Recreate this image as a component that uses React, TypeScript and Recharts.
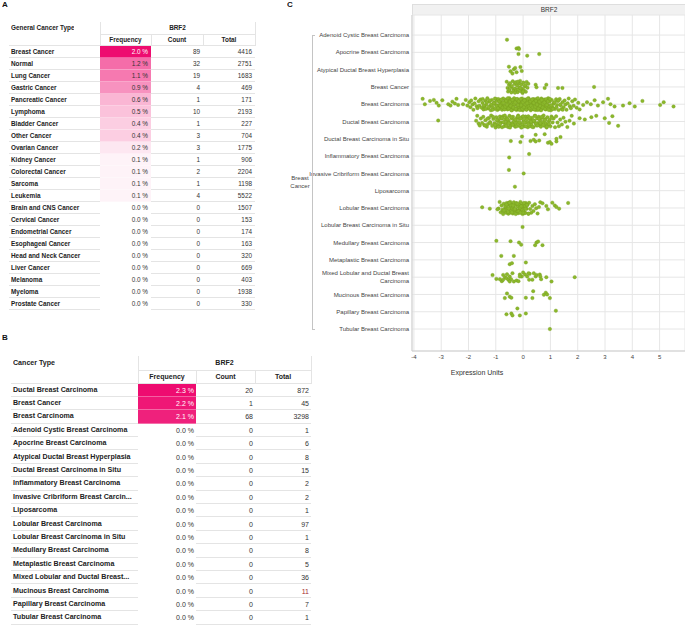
import React from 'react';
import { ScatterChart, Scatter, XAxis, YAxis, CartesianGrid } from 'recharts';

const FONT = '"Liberation Sans", Arial, sans-serif';

// ---------- Table A data ----------
const generalTypes = ['Breast Cancer', 'Normal', 'Lung Cancer', 'Gastric Cancer', 'Pancreatic Cancer', 'Lymphoma', 'Bladder Cancer', 'Other Cancer', 'Ovarian Cancer', 'Kidney Cancer', 'Colorectal Cancer', 'Sarcoma', 'Leukemia', 'Brain and CNS Cancer', 'Cervical Cancer', 'Endometrial Cancer', 'Esophageal Cancer', 'Head and Neck Cancer', 'Liver Cancer', 'Melanoma', 'Myeloma', 'Prostate Cancer'];
const generalFreq = [2.0, 1.2, 1.1, 0.9, 0.6, 0.5, 0.4, 0.4, 0.2, 0.1, 0.1, 0.1, 0.1, 0, 0, 0, 0, 0, 0, 0, 0, 0];
const generalCount = [89, 32, 19, 4, 1, 10, 1, 3, 3, 1, 2, 1, 4, 0, 0, 0, 0, 0, 0, 0, 0, 0];
const generalTotal = [4416, 2751, 1683, 469, 171, 2193, 227, 704, 1775, 906, 2204, 1198, 5522, 1507, 153, 174, 163, 320, 669, 403, 1938, 330];

// ---------- Table B data ----------
const breastTypes = ['Ductal Breast Carcinoma', 'Breast Cancer', 'Breast Carcinoma', 'Adenoid Cystic Breast Carcinoma', 'Apocrine Breast Carcinoma', 'Atypical Ductal Breast Hyperplasia', 'Ductal Breast Carcinoma in Situ', 'Inflammatory Breast Carcinoma', 'Invasive Cribriform Breast Carcin...', 'Liposarcoma', 'Lobular Breast Carcinoma', 'Lobular Breast Carcinoma in Situ', 'Medullary Breast Carcinoma', 'Metaplastic Breast Carcinoma', 'Mixed Lobular and Ductal Breast...', 'Mucinous Breast Carcinoma', 'Papillary Breast Carcinoma', 'Tubular Breast Carcinoma'];
const breastFreq = [2.3, 2.2, 2.1, 0, 0, 0, 0, 0, 0, 0, 0, 0, 0, 0, 0, 0, 0, 0];
const breastCount = [20, 1, 68, 0, 0, 0, 0, 0, 0, 0, 0, 0, 0, 0, 0, 0, 0, 0];
const breastTotal = [872, 45, 3298, 1, 6, 8, 15, 2, 2, 1, 97, 1, 8, 5, 36, 11, 7, 1];

// ---------- Panel C data ----------
const subtypes = ['Adenoid Cystic Breast Carcinoma', 'Apocrine Breast Carcinoma', 'Atypical Ductal Breast Hyperplasia', 'Breast Cancer', 'Breast Carcinoma', 'Ductal Breast Carcinoma', 'Ductal Breast Carcinoma in Situ', 'Inflammatory Breast Carcinoma', 'Invasive Cribriform Breast Carcinoma', 'Liposarcoma', 'Lobular Breast Carcinoma', 'Lobular Breast Carcinoma in Situ', 'Medullary Breast Carcinoma', 'Metaplastic Breast Carcinoma', 'Mixed Lobular and Ductal Breast Carcinoma', 'Mucinous Breast Carcinoma', 'Papillary Breast Carcinoma', 'Tubular Breast Carcinoma'];
const xTicks = [-4, -3, -2, -1, 0, 1, 2, 3, 4, 5];

// jitter pattern used for the dense groups (strip-plot layout)
const JITTER = [-0.3, 0.06, 0.27, -0.12, 0.17, -0.22, 0.01, 0.32, -0.05, -0.33, 0.12, 0.23, -0.17, 0.09, -0.27, 0.2, -0.08, 0.3, 0.14, -0.2, 0.03, -0.35, 0.25, -0.14, 0.1, 0.35, -0.25, 0.19, -0.02, -0.1, 0.28, -0.29, 0.05, -0.18, 0.33];

const adenoidVals = [-0.59];
const adenoidJit = [0.27];
const apocrineVals = [-0.24, -0.17, -0.15, -0.17, 0.15, 0.59];
const apocrineJit = [-0.23, -0.25, -0.19, 0.1, 0.19, 0.1];
const atypicalVals = [-0.52, -0.46, -0.34, -0.29, -0.24, -0.1, -0.05, -0.39];
const atypicalJit = [-0.17, 0.1, -0.02, -0.1, 0.15, -0.15, 0.08, 0.23];
const breastCancerVals = [-0.6, -0.57, -0.55, -0.52, -0.5, -0.48, -0.45, -0.43, -0.41, -0.38, -0.36, -0.34, -0.31, -0.29, -0.27, -0.25, -0.22, -0.2, -0.18, -0.15, -0.13, -0.11, -0.08, -0.06, -0.04, -0.02, 0.01, 0.03, 0.06, 0.08, 0.1, 0.13, 0.16, 0.19, -0.3, -0.2, -0.1, 0.0];
const breastCancerSparseVals = [0.46, 0.49, 0.79, 0.85, 1.28, 1.44, 2.6];
const breastCancerSparseJit = [-0.13, 0.02, 0.06, -0.13, 0.06, 0.06, 0.0];

const carcinomaCore = [-1.97, -1.93, -1.9, -1.85, -1.82, -1.78, -1.75, -1.7, -1.67, -1.63, -1.6, -1.56, -1.52, -1.49, -1.45, -1.42, -1.38, -1.35, -1.31, -1.28, -1.24, -1.21, -1.18, -1.14, -1.11, -1.08, -1.05, -1.02,
  -0.99, -0.98, -0.95, -0.94, -0.91, -0.89, -0.88, -0.85, -0.83, -0.82, -0.79, -0.77, -0.76, -0.73, -0.71, -0.7, -0.67, -0.66, -0.63, -0.61, -0.6, -0.57, -0.55, -0.54, -0.51, -0.5, -0.47, -0.45, -0.44, -0.41, -0.4, -0.37, -0.35, -0.34, -0.31, -0.3, -0.28, -0.25, -0.24, -0.21, -0.2, -0.18, -0.15, -0.14, -0.11, -0.1, -0.08, -0.05, -0.04, -0.02, 0.01, 0.02, 0.04, 0.07, 0.08, 0.1, 0.13, 0.14, 0.16, 0.19, 0.2, 0.22, 0.25, 0.26, 0.28, 0.31, 0.32, 0.34, 0.37, 0.38, 0.4, 0.43, 0.44, 0.46, 0.49, 0.5, 0.52, 0.55, 0.57, 0.58, 0.61, 0.63, 0.64, 0.67, 0.69, 0.7, 0.73, 0.75, 0.77, 0.79, 0.81, 0.83, 0.86, 0.88, 0.9, 0.92, 0.95, 0.97, 0.99,
  1.02, 1.05, 1.08, 1.11, 1.14, 1.17, 1.21, 1.24, 1.27, 1.3, 1.34, 1.37, 1.41, 1.44, 1.48, 1.52, 1.55, 1.59, 1.63, 1.67, 1.71, 1.75, 1.8, 1.85, 1.9, 1.96, 2.02, 2.07,
  -0.58, -0.49, -0.42, -0.33, -0.26, -0.17, -0.09, -0.01, 0.06, 0.12, 0.18, 0.24, 0.3, 0.36, 0.42, 0.48, 0.54,
  -1.48, -1.44, -1.37, -1.33, -1.26, -1.22, -1.16, -1.12, -1.07, -1.03, -0.97, -0.92, -0.87, -0.84, -0.8, -0.75, -0.72, -0.68, -0.65, -0.62, -0.59, -0.56, -0.53, -0.48, -0.46, -0.43, -0.39, -0.36, -0.32, -0.29, -0.27, -0.23, -0.19, -0.16, -0.13, -0.09, -0.07, -0.03, 0.0, 0.03, 0.05, 0.09, 0.12, 0.15, 0.17, 0.21, 0.24, 0.27, 0.29, 0.33, 0.35, 0.39, 0.41, 0.45, 0.47, 0.51, 0.54, 0.56, 0.6, 0.62, 0.66, 0.68, 0.72, 0.74, 0.78, 0.8, 0.84, 0.87, 0.91, 0.94, 0.98, 1.03, 1.09, 1.15, 1.22, 1.29, 1.36, 1.45];
const carcinomaOutVals = [-3.68, -3.6, -3.41, -3.27, -3.17, -3.09, -2.96, -2.74, -2.66, -2.59, -2.5, -2.44, -2.38, -2.2, -2.1, -2.04, 2.2, 2.34, 2.48, 2.62, 2.74, 2.93, 3.11, 3.2, 3.35, 3.66, 3.9, 4.09, 4.37, 5.02, 5.15, 5.51];
const carcinomaOutJit = [-0.31, 0, -0.19, -0.25, -0.08, 0.08, -0.23, 0, 0.08, -0.15, -0.04, -0.31, 0.04, 0, -0.25, 0.08, 0.04, -0.12, 0, -0.23, 0.08, -0.12, -0.31, 0, 0.13, 0.08, -0.06, 0.13, -0.19, 0.04, -0.12, 0.13];

const ductalCore = [-1.72, -1.68, -1.63, -1.59, -1.55, -1.5, -1.46, -1.42, -1.38, -1.33, -1.29, -1.25, -1.21, -1.17, -1.13, -1.09, -1.05, -1.01,
  -0.98, -0.95, -0.93, -0.9, -0.87, -0.85, -0.82, -0.79, -0.77, -0.74, -0.71, -0.69, -0.66, -0.63, -0.61, -0.58, -0.55, -0.53, -0.5, -0.47, -0.45, -0.42, -0.39, -0.37, -0.34, -0.31, -0.29, -0.26, -0.23, -0.21, -0.18, -0.15, -0.13, -0.1, -0.07, -0.05, -0.02, 0.01, 0.03, 0.06, 0.09, 0.11, 0.14, 0.17, 0.19, 0.22, 0.25, 0.27, 0.3, 0.33, 0.35, 0.38, 0.41, 0.43, 0.46, 0.49, 0.51, 0.54, 0.57, 0.59, 0.62, 0.65, 0.67, 0.7, 0.73, 0.75, 0.78, 0.81, 0.83, 0.86, 0.89, 0.91, 0.94, 0.97,
  1.0, 1.04, 1.08, 1.12, 1.17, 1.21, 1.26, 1.31, 1.36, 1.42, 1.48, 1.55, 1.62, 1.7, 1.78, 1.86,
  -1.4, -1.3, -1.2, -1.1, -1.02, -0.96, -0.9, -0.84, -0.78, -0.72, -0.67, -0.62, -0.57, -0.52, -0.48, -0.43, -0.38, -0.33, -0.28, -0.24, -0.19, -0.14, -0.09, -0.04, 0.0, 0.05, 0.1, 0.15, 0.2, 0.24, 0.29, 0.34, 0.39, 0.44, 0.48, 0.53, 0.58, 0.63, 0.68, 0.74, 0.8, 0.87, 0.95, 1.05];
const ductalOutVals = [-3.11, 2.07, 2.26, 2.5, 2.68, 2.99, 3.15, 3.27, 3.48];
const ductalOutJit = [-0.06, -0.19, -0.12, -0.25, -0.33, -0.19, 0.08, -0.31, 0.25];

const dcisVals = [-0.45, -0.1, -0.04, 0.27, 0.39, 0.46, 0.46, 0.59, 0.79, 0.91, 0.98, 1.04, 1.22, 1.37, 1.22];
const dcisJit = [0.13, 0.19, -0.13, 0.13, 0.06, -0.23, 0.15, 0.1, -0.27, 0.23, 0.19, 0.29, 0.15, -0.1, 0.0];
const inflamVals = [-0.51, 0.22];
const inflamJit = [0.08, -0.12];
const cribriformVals = [-0.52, 0.02];
const cribriformJit = [-0.2, 0];
const lipoVals = [-0.3];
const lipoJit = [-0.23];
const lobularCore = [-0.9, -0.86, -0.82, -0.79, -0.76, -0.73, -0.71, -0.69, -0.66, -0.64, -0.62, -0.6, -0.58, -0.56, -0.54, -0.52, -0.5, -0.48, -0.46, -0.44, -0.42, -0.4, -0.38, -0.36, -0.34, -0.32, -0.3, -0.28, -0.26, -0.24, -0.22, -0.2, -0.18, -0.16, -0.14, -0.12, -0.1, -0.08, -0.06, -0.04, -0.02, 0.0, 0.02, 0.04, 0.06, 0.08, 0.1, 0.13, 0.16, 0.19, 0.22, 0.26, 0.3, 0.34, 0.38, 0.43, 0.48, 0.53, 0.58, 0.63, -0.65, -0.55, -0.45, -0.35, -0.25, -0.15, -0.05, 0.05,
  -0.7, -0.61, -0.53, -0.47, -0.41, -0.37, -0.31, -0.27, -0.21, -0.17, -0.11, -0.07, -0.01, 0.03, 0.09, 0.14, 0.2, -0.5, -0.3, -0.1];
const lobularOutVals = [-1.5, -1.22, -0.94, 0.71, 0.85, 0.91, 1.07, 1.16, 1.22, 1.32, 1.65];
const lobularOutJit = [-0.04, 0.04, 0.08, -0.27, -0.12, 0.08, -0.31, -0.15, -0.06, 0.04, -0.29];
const lcisVals = [-0.02];
const lcisJit = [0.1];
const medullaryVals = [-0.98, -0.46, -0.15, -0.07, 0.44, 0.49, 0.55, 0.71];
const medullaryJit = [-0.1, -0.08, 0, 0.12, 0.15, 0, -0.06, 0.15];
const metaplasticVals = [-0.8, -0.34, 0.1, -0.49, -0.41];
const metaplasticJit = [-0.23, -0.23, 0.15, 0.25, 0.19];
const mixedVals = [-1.12, -0.98, -0.78, -0.73, -0.66, -0.73, -0.61, -0.59, -0.54, -0.49, -0.44, -0.39, -0.34, -0.24, -0.17, -0.12, -0.05, 0, 0.07, 0.15, 0.22, 0.24, 0.34, 0.39, 0.46, 0.49, 0.61, 0.63, 0.66, 0.85, 1.04, 1.89, -0.85, -0.49, -0.12, 0.2];
const mixedJit = [-0.12, 0.1, 0.23, -0.13, 0.0, 0.15, 0.06, -0.17, 0.15, -0.04, 0.12, -0.23, 0.25, 0.19, 0.23, -0.15, -0.04, -0.27, -0.15, -0.04, 0.15, -0.19, 0.15, -0.23, -0.04, -0.13, -0.15, -0.04, 0.12, 0.0, 0.25, 0.0, 0.12, 0.25, -0.04, -0.23];
const mucinousVals = [-0.59, -0.67, -0.49, -0.43, 0.1, 0.34, 0.37, 0.76, 0.83, 0.98, 0.88];
const mucinousJit = [-0.06, 0.21, 0.13, 0.19, 0.19, 0.21, -0.19, 0.02, -0.1, 0.21, 0.0];
const papillaryVals = [-0.21, -0.61, -0.43, -0.39, -0.12, 0.1, 1.2];
const papillaryJit = [-0.19, 0.15, 0.1, 0.21, 0.21, 0.1, -0.06];
const tubularVals = [0.98];
const tubularJit = [0];

type Group = { cat: number; vals: number[]; jit?: number[] };
const groups: Group[] = [
  { cat: 0, vals: adenoidVals, jit: adenoidJit },
  { cat: 1, vals: apocrineVals, jit: apocrineJit },
  { cat: 2, vals: atypicalVals, jit: atypicalJit },
  { cat: 3, vals: breastCancerVals },
  { cat: 3, vals: breastCancerSparseVals, jit: breastCancerSparseJit },
  { cat: 4, vals: carcinomaCore },
  { cat: 4, vals: carcinomaOutVals, jit: carcinomaOutJit },
  { cat: 5, vals: ductalCore },
  { cat: 5, vals: ductalOutVals, jit: ductalOutJit },
  { cat: 6, vals: dcisVals, jit: dcisJit },
  { cat: 7, vals: inflamVals, jit: inflamJit },
  { cat: 8, vals: cribriformVals, jit: cribriformJit },
  { cat: 9, vals: lipoVals, jit: lipoJit },
  { cat: 10, vals: lobularCore },
  { cat: 10, vals: lobularOutVals, jit: lobularOutJit },
  { cat: 11, vals: lcisVals, jit: lcisJit },
  { cat: 12, vals: medullaryVals, jit: medullaryJit },
  { cat: 13, vals: metaplasticVals, jit: metaplasticJit },
  { cat: 14, vals: mixedVals, jit: mixedJit },
  { cat: 15, vals: mucinousVals, jit: mucinousJit },
  { cat: 16, vals: papillaryVals, jit: papillaryJit },
  { cat: 17, vals: tubularVals, jit: tubularJit },
];

function buildPoints() {
  const pts: { x: number; y: number }[] = [];
  let k = 0;
  groups.forEach((g) => {
    g.vals.forEach((v, j) => {
      const dy = g.jit ? g.jit[j] : JITTER[k++ % JITTER.length];
      pts.push({ x: v, y: g.cat + dy });
    });
  });
  return pts;
}
const points = buildPoints();

// ---------- helpers ----------
function pinkFor(freq: number, max: number) {
  const t = max > 0 ? freq / max : 0;
  const base = [238, 12, 112];
  const c = base.map((b) => Math.round(255 + (b - 255) * t));
  return `rgb(${c[0]},${c[1]},${c[2]})`;
}

const abs = (s: React.CSSProperties): React.CSSProperties => ({ position: 'absolute', whiteSpace: 'nowrap', overflow: 'hidden', ...s });

type TableCfg = {
  left: number; freqL: number; countL: number; totalL: number; right: number;
  headTop: number; rowH: number; headH: number; font: number; nameFont: number; rowTop: number;
  title: string; padR: number;
};

function FreqTable(props: { cfg: TableCfg; names: string[]; freq: number[]; count: number[]; total: number[]; totalColors?: Record<number, string> }) {
  const { cfg, names, freq, count, total, totalColors } = props;
  const max = Math.max(...freq);
  const els: React.ReactNode[] = [];
  const hc = cfg.headTop;
  const sub = hc + cfg.headH;
  const line = '#e4e4e4';
  els.push(<div key="title" style={abs({ left: cfg.left + 2, top: hc, height: cfg.headH, lineHeight: cfg.headH + 'px', fontSize: cfg.nameFont, fontWeight: 'bold', color: '#222' })}>{cfg.title}</div>);
  els.push(<div key="gene" style={abs({ left: cfg.freqL, width: cfg.right - cfg.freqL, top: hc, height: cfg.headH, lineHeight: cfg.headH + 'px', textAlign: 'center', fontSize: cfg.font, fontWeight: 'bold', color: '#222' })}>BRF2</div>);
  const subs: [string, number, number][] = [['Frequency', cfg.freqL, cfg.countL], ['Count', cfg.countL, cfg.totalL], ['Total', cfg.totalL, cfg.right]];
  subs.forEach(([t, l, r]) => {
    els.push(<div key={'s' + t} style={abs({ left: l, width: r - l, top: sub, height: cfg.headH, lineHeight: cfg.headH + 'px', textAlign: 'center', fontSize: cfg.font, fontWeight: 'bold', color: '#222' })}>{t}</div>);
  });
  els.push(<div key="hl1" style={abs({ left: cfg.freqL, width: cfg.right - cfg.freqL, top: sub, height: 1, background: line })} />);
  els.push(<div key="hl2" style={abs({ left: cfg.left, width: cfg.right - cfg.left, top: cfg.rowTop - 1, height: 1, background: line })} />);
  [cfg.freqL, cfg.right].forEach((x, i) => els.push(<div key={'hv' + i} style={abs({ left: x, width: 1, top: hc, height: cfg.rowTop - hc, background: line })} />));
  [cfg.countL, cfg.totalL].forEach((x, i) => els.push(<div key={'hs' + i} style={abs({ left: x, width: 1, top: sub, height: cfg.rowTop - sub, background: line })} />));

  names.forEach((n, i) => {
    const top = cfg.rowTop + i * cfg.rowH;
    const common = { top, height: cfg.rowH, lineHeight: cfg.rowH + 'px' };
    const colored = freq[i] > 0;
    const t = max > 0 ? freq[i] / max : 0;
    els.push(<div key={'n' + i} style={abs({ ...common, left: cfg.left, width: cfg.freqL - cfg.left, paddingLeft: 2, boxSizing: 'border-box', fontSize: cfg.nameFont, fontWeight: 'bold', color: '#222', borderBottom: '1px solid ' + line })}>{n}</div>);
    els.push(<div key={'f' + i} style={abs({ ...common, left: cfg.freqL, width: cfg.countL - cfg.freqL, paddingRight: cfg.padR, boxSizing: 'border-box', textAlign: 'right', fontSize: cfg.font, color: t > 0.8 ? '#fff' : '#333', background: colored ? pinkFor(freq[i], max) : 'transparent', borderBottom: colored ? '1px solid rgba(255,255,255,0.35)' : 'none' })}>{freq[i].toFixed(1) + ' %'}</div>);
    els.push(<div key={'c' + i} style={abs({ ...common, left: cfg.countL, width: cfg.totalL - cfg.countL, paddingRight: cfg.padR, boxSizing: 'border-box', textAlign: 'right', fontSize: cfg.font, color: '#333', borderBottom: '1px solid ' + line })}>{count[i]}</div>);
    els.push(<div key={'t' + i} style={abs({ ...common, left: cfg.totalL, width: cfg.right - cfg.totalL, paddingRight: cfg.padR, boxSizing: 'border-box', textAlign: 'right', fontSize: cfg.font, color: (totalColors && totalColors[i]) || '#333', borderBottom: '1px solid ' + line })}>{total[i]}</div>);
  });
  return <>{els}</>;
}

const cfgA: TableCfg = { left: 9, freqL: 100, countL: 151, totalL: 203, right: 255, headTop: 22, headH: 12, rowTop: 46, rowH: 12, font: 6.4, nameFont: 6.4, title: 'General Cancer Type', padR: 3 };
const cfgB: TableCfg = { left: 11, freqL: 138, countL: 196, totalL: 255, right: 311, headTop: 356, headH: 14, rowTop: 383.5, rowH: 13.4, font: 7, nameFont: 7.1, title: 'Cancer Type', padR: 2 };

const CatTick = (props: any) => {
  const { x, y, payload } = props;
  const label = subtypes[payload.value];
  if (label === undefined) return null;
  if (payload.value === 14) {
    return (
      <text x={x} y={y} textAnchor="end" fontSize={6} fill="#444" fontFamily={FONT}>
        <tspan x={x} dy={-2.3}>Mixed Lobular and Ductal Breast</tspan>
        <tspan x={x} dy={8.3}>Carcinoma</tspan>
      </text>
    );
  }
  return (
    <text x={x} y={y} dy={2.1} textAnchor="end" fontSize={6} fill="#444" fontFamily={FONT}>{label}</text>
  );
};

const Dot = (props: any) => {
  const { cx, cy } = props;
  if (cx == null || cy == null) return null;
  return <circle cx={cx} cy={cy} r={1.75} fill="#8bb82c" stroke="#769c1e" strokeWidth={0.35} />;
};

const yTicks = subtypes.map((_, i) => i);

export default function App() {
  return (
    <div style={{ position: 'absolute', left: 0, top: 0, width: 685, height: 627, background: '#fff', overflow: 'hidden', fontFamily: FONT }}>
      <div style={abs({ left: 2, top: 0, fontSize: 8, fontWeight: 'bold', color: '#111' })}>A</div>
      <div style={abs({ left: 2, top: 333, fontSize: 8, fontWeight: 'bold', color: '#111' })}>B</div>
      <div style={abs({ left: 287, top: 0, fontSize: 8, fontWeight: 'bold', color: '#111' })}>C</div>

      <FreqTable cfg={cfgA} names={generalTypes} freq={generalFreq} count={generalCount} total={generalTotal} />
      <FreqTable cfg={cfgB} names={breastTypes} freq={breastFreq} count={breastCount} total={breastTotal} totalColors={{ 15: '#a52a2a' }} />

      <div style={abs({ left: 412, top: 4, width: 273, height: 11, background: '#f1f1f1', borderTop: '1px solid #dedede', borderLeft: '1px solid #dedede', boxSizing: 'border-box', fontSize: 6.5, lineHeight: '10px', textAlign: 'center', color: '#333' })}>BRF2</div>
      <div style={{ position: 'absolute', left: 290, top: 0 }}>
        <ScatterChart width={395} height={390} margin={{ top: 15, right: 0, bottom: 19, left: 0 }}>
          <CartesianGrid stroke="#e6e6e6" strokeWidth={1} />
          <XAxis type="number" dataKey="x" domain={[-4.07, 5.93]} ticks={xTicks} allowDataOverflow tickLine={false} tickSize={0} tickMargin={4} height={20}
            axisLine={{ stroke: '#cfcfcf' }} tick={{ fontSize: 6, fill: '#444', fontFamily: FONT }} />
          <YAxis type="number" dataKey="y" domain={[-1.16, 18.27]} reversed ticks={yTicks} interval={0} allowDataOverflow tickLine={false} tickSize={0} tickMargin={3} width={122}
            axisLine={{ stroke: '#cfcfcf' }} tick={<CatTick />} />
          <Scatter data={points} isAnimationActive={false} shape={<Dot />} />
        </ScatterChart>
      </div>
      <div style={abs({ left: 440, top: 369, width: 74, textAlign: 'center', fontSize: 7, color: '#333' })}>Expression Units</div>

      <div style={abs({ left: 312, top: 35, width: 1, height: 295, background: '#c4c4c4' })} />
      <div style={abs({ left: 312, top: 35, width: 3, height: 1, background: '#c4c4c4' })} />
      <div style={abs({ left: 312, top: 329, width: 3, height: 1, background: '#c4c4c4' })} />
      <div style={abs({ left: 289, top: 174, width: 22, textAlign: 'center', fontSize: 6, lineHeight: '8px', color: '#444', whiteSpace: 'normal' })}>Breast<br />Cancer</div>
    </div>
  );
}
